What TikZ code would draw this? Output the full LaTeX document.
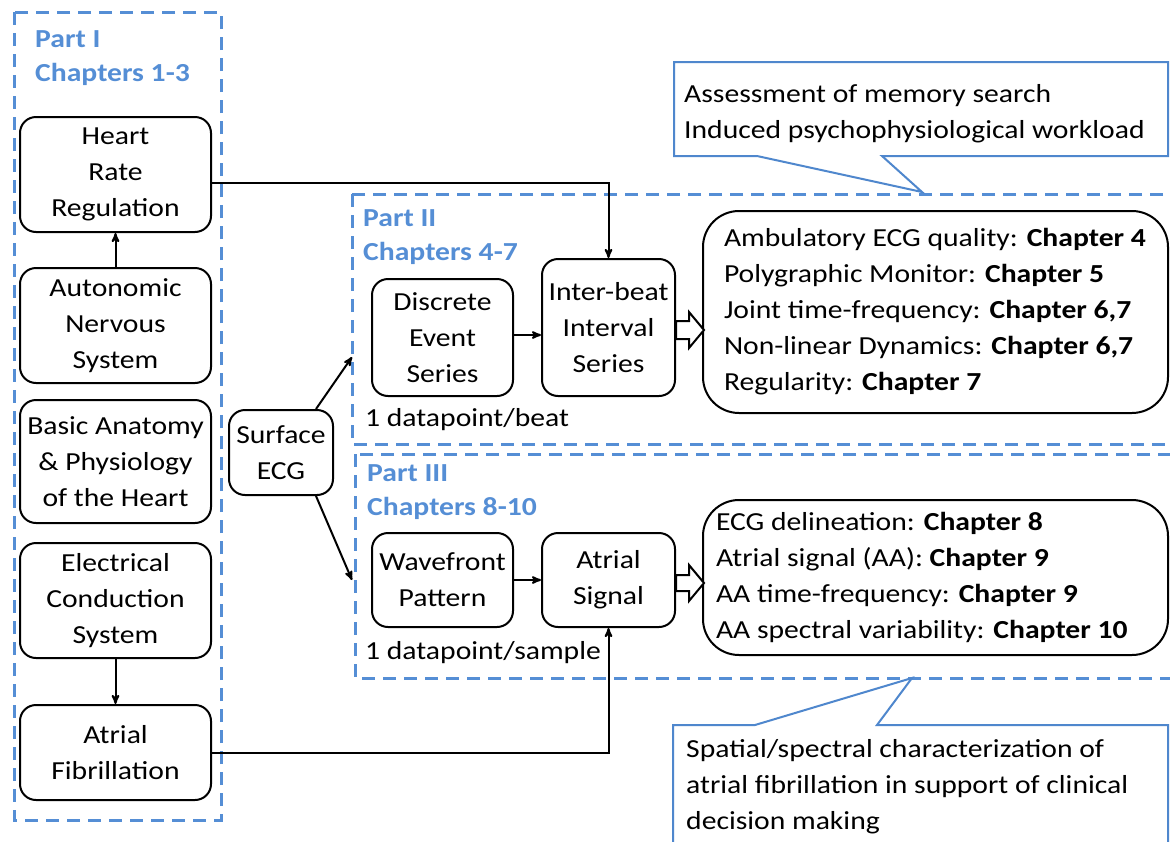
\documentclass[tikz,border=0pt]{standalone}
\usepackage{fontspec}
\setmainfont{Carlito}[FakeStretch=1.14]
\usetikzlibrary{arrows,positioning}
\definecolor{partblue}{RGB}{85,142,213}
\definecolor{noteblue}{RGB}{79,135,205}

\begin{document}
\begin{tikzpicture}[
        x=1pt, y=-1pt,
        every node/.style={font=\fontsize{26}{36}\selectfont, text=black},
        block/.style={draw, line width=2pt, rounded corners=16pt, align=center, inner sep=0pt},
        chapters/.style={draw, line width=2pt, rounded corners=36pt, align=flush left, inner ysep=0pt},
        part/.style={draw=partblue, line width=3pt, dash pattern=on 13pt off 8pt},
        part label/.style={text=partblue, font=\fontsize{26}{34}\selectfont\bfseries, align=left, inner sep=0pt, anchor=west},
        conn/.style={line width=2pt, ->, >=stealth'},
        hollow/.style={line width=2pt, fill=white, line join=miter},
        note/.style={draw=noteblue, line width=2pt, fill=white, line join=miter}
        ]
        \path[use as bounding box, clip] (0,0) rectangle (1170,841);
        % Parts
        \draw[part] (14,12) rectangle (221,820);
        \draw[part] (352,194) rectangle (1190,444);
        \draw[part] (355,454) rectangle (1190,678);
        \node[part label] (part1) at (35,58) {Part I\\Chapters 1-3};
        \node[part label] (part2) at (363,237) {Part II\\Chapters 4-7};
        \node[part label] (part3) at (367,492) {Part III\\Chapters 8-10};
        % Part I blocks
        \node[block, minimum width=191, minimum height=115] (hrr) at (115.5,174.5) {Heart\\Rate\\Regulation};
        \node[block, minimum width=191, minimum height=115] (ans) at (115.5,325.5) {Autonomic\\Nervous\\System};
        \node[block, minimum width=191, minimum height=123] (anat) at (115.5,461.5) {Basic Anatomy\\\&\ Physiology\\of the Heart};
        \node[block, minimum width=191, minimum height=115] (ecs) at (115.5,600.5) {Electrical\\Conduction\\System};
        \node[block, minimum width=191, minimum height=95] (afib) at (115.5,752.5) {Atrial\\Fibrillation};
        \node[block, minimum width=104, minimum height=85] (ecg) at (281,452.5) {Surface\\ECG};
        % Part II blocks
        \node[block, minimum width=141, minimum height=117] (des) at (442.5,337.5) {Discrete\\Event\\Series};
        \node[block, minimum width=133, minimum height=137] (ibi) at (608.5,327.5) {Inter-beat\\Interval\\Series};
        \node[anchor=west, inner sep=0pt] (beat) at (365,420) {1 datapoint/beat};
        \node[chapters, minimum width=465, minimum height=202, inner xsep=21pt, text width=423pt] (ch2) at (935.5,312)
            {Ambulatory ECG quality: \textbf{Chapter 4}\\
             Polygraphic Monitor: \textbf{Chapter 5}\\
             Joint time-frequency: \textbf{Chapter 6,7}\\
             Non-linear Dynamics: \textbf{Chapter 6,7}\\
             Regularity: \textbf{Chapter 7}};
        % Part III blocks
        \node[block, minimum width=141, minimum height=94] (wave) at (442.5,580) {Wavefront\\Pattern};
        \node[block, minimum width=133, minimum height=94] (asig) at (608.5,580) {Atrial\\Signal};
        \node[anchor=west, inner sep=0pt] (sample) at (365,653) {1 datapoint/sample};
        \node[chapters, minimum width=465, minimum height=155, inner xsep=13pt, text width=439pt] (ch3) at (935.5,577.5)
            {ECG delineation: \textbf{Chapter 8}\\
             Atrial signal (AA): \textbf{Chapter 9}\\
             AA time-frequency: \textbf{Chapter 9}\\
             AA spectral variability: \textbf{Chapter 10}};
        % Connectors
        \coordinate (p2in) at (352,357);
        \coordinate (p3in) at (352,580);
        \draw[conn] (ans) -- (hrr);
        \draw[conn] (ecs) -- (afib);
        \draw[conn] ([yshift=-8.5pt]hrr.east) -| (ibi.north);
        \draw[conn] (afib.east) -| (asig.south);
        \draw[conn] ([xshift=-18pt]ecg.north east) -- (p2in);
        \draw[conn] ([xshift=-18pt]ecg.south east) -- (p3in);
        \draw[conn] (des.east |- 0,335) -- (ibi.west |- 0,335);
        \draw[conn] (wave) -- (asig);
        \draw[hollow] (ibi.east) ++(0,-6.5) -- ++(13,0) -- ++(0,-9) -- ++(15,18) -- ++(-15,18) -- ++(0,-9) -- ++(-13,0) -- cycle;
        \draw[hollow] (asig.east) ++(0,-5) -- ++(13,0) -- ++(0,-10) -- ++(15,18) -- ++(-15,18) -- ++(0,-10) -- ++(-13,0) -- cycle;
        % Notes
        \draw[note] (674,62) -- (1168,62) -- (1168,156) -- (882,156) -- (922,192) -- (757,156) -- (674,156) -- cycle;
        \node[anchor=north west, align=left, inner sep=0pt] (memnote) at (684,84) {Assessment of memory search\\Induced psychophysiological workload};
        \draw[note] (673,860) -- (673,725) -- (755,725) -- (912,678) -- (877,725) -- (1168,725) -- (1168,860);
        \node[anchor=north west, align=left, inner sep=0pt] (afnote) at (686,739) {Spatial/spectral characterization of\\atrial fibrillation in support of clinical\\decision making};
    \end{tikzpicture}
\end{document}
